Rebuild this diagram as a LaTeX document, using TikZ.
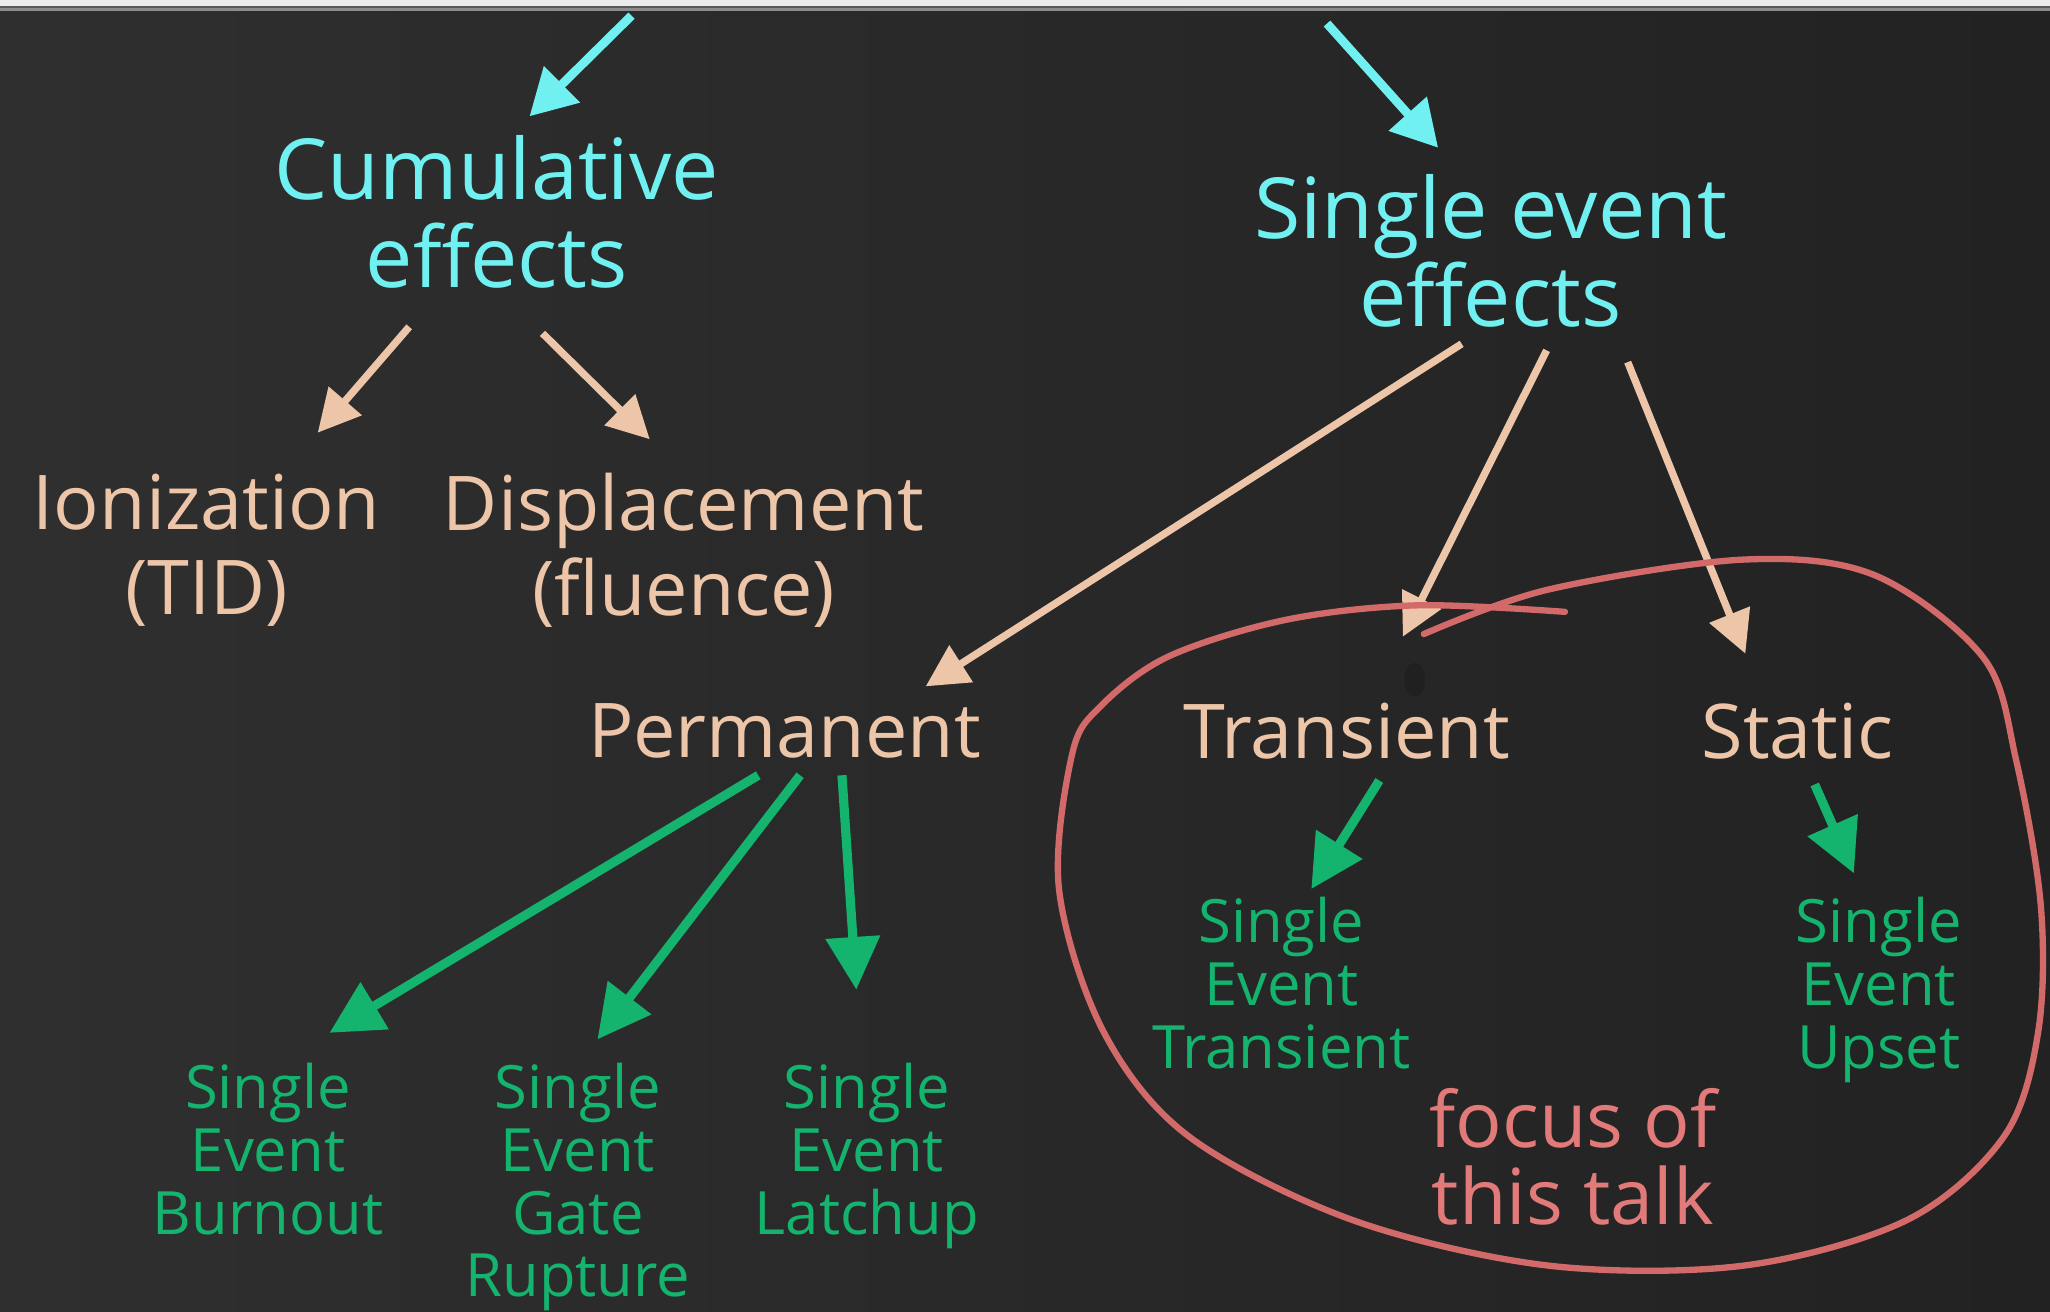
\documentclass[tikz,border=0pt]{standalone}
\usepackage{fontspec}
\setmainfont{Open Sans}
\usetikzlibrary{arrows.meta,calc}

\definecolor{boardL}{HTML}{2F2F2F}
\definecolor{boardR}{HTML}{222222}
\definecolor{chalkcyan}{HTML}{70F0F0}
\definecolor{chalkpeach}{HTML}{EDC5A8}
\definecolor{chalkgreen}{HTML}{14B36E}
\definecolor{chalkred}{HTML}{D26A6A}
\definecolor{chalkredtxt}{HTML}{E27A7A}

\tikzset{
  lvlone/.style={text=chalkcyan, font=\fontsize{24}{25}\selectfont, align=center, inner sep=0pt},
  lvltwo/.style={text=chalkpeach, font=\fontsize{21.5}{24}\selectfont, align=center, inner sep=0pt},
  lvlthree/.style={text=chalkgreen, font=\fontsize{17}{17.9}\selectfont, align=center, inner sep=0pt},
  notetxt/.style={text=chalkredtxt, font=\fontsize{22}{22}\selectfont, align=center, inner sep=0pt},
  cyanarrow/.style={draw=chalkcyan, line width=2.5pt,
    -{Triangle[length=13pt,width=14pt]}},
  peacharrow/.style={draw=chalkpeach, line width=2.1pt,
    -{Triangle[length=12pt,width=12pt]}},
  greenarrow/.style={draw=chalkgreen, line width=2.6pt,
    -{Triangle[length=15pt,width=15pt]}},
  focusloop/.style={draw=chalkred, line width=1.8pt, line cap=round},
}

\begin{document}
\begin{tikzpicture}[x=0.013074cm, y=-0.013074cm]
  \useasboundingbox (0,0) rectangle (1568,1003);

  % chalkboard
  \shade[left color=boardL, right color=boardR] (0,0) rectangle (1568,1003);
  \fill[black, opacity=0.15] (1082,520) ellipse (8 and 13);

  % window strip along the top edge
  \fill[gray!15] (0,0) rectangle (1568,4.6);
  \fill[black!65] (0,4.6) rectangle (1568,6.1);
  \fill[black!45] (0,6.1) rectangle (1568,8.4);

  % entry points of the two top arrows
  \coordinate (inA) at (483,12);
  \coordinate (inB) at (1015,18);

  % first level
  \node[lvlone] (cum) at (380,162) {Cumulative\\effects};
  \node[lvlone] (see) at (1140,192) {Single event\\effects};

  % second level
  \node[lvltwo] (ion) at (158,421) {Ionization\\(TID)};
  \node[lvltwo] (dis) at (523,421) {Displacement\\(fluence)};
  \node[lvltwo] (perm) at (600,559) {Permanent};
  \node[lvltwo] (tra) at (1030,559) {Transient};
  \node[lvltwo] (sta) at (1375,559) {Static};

  % third level
  \node[lvlthree] (seb) at (205,879) {Single\\Event\\Burnout};
  \node[lvlthree] (seg) at (442,908) {Single\\Event\\Gate\\Rupture};
  \node[lvlthree] (sel) at (663,884) {Single\\Event\\Latchup};
  \node[lvlthree] (set) at (980,752) {Single\\Event\\Transient};
  \node[lvlthree] (seu) at (1437,757) {Single\\Event\\Upset};

  % note inside the loop
  \node[notetxt] (foc) at (1203,885) {focus of\\this talk};

  % arrows into the first level
  \draw[cyanarrow] (inA) -- ($(cum)+(25,-73)$);
  \draw[cyanarrow] (inB) -- ($(see)+(-40,-79)$);

  % cumulative effects
  \draw[peacharrow] ($(cum)+(-67,88)$) -- ($(ion)+(85,-90)$);
  \draw[peacharrow] ($(cum)+(35,93)$) -- ($(dis)+(-26,-85)$);

  % single event effects
  \draw[peacharrow] ($(see)+(-22,71)$) -- ($(perm)+(108,-34)$);
  \draw[peacharrow] ($(see)+(43,76)$) -- ($(tra)+(43,-72)$);
  \draw[peacharrow] ($(see)+(105,85)$) -- ($(sta)+(-40,-59)$);

  % permanent
  \draw[greenarrow] ($(perm)+(-20,34)$) -- ($(seb)+(47,-89)$);
  \draw[greenarrow] ($(perm)+(12,34)$) -- ($(seg)+(15,-113)$);
  \draw[greenarrow] ($(perm)+(44,34)$) -- ($(sel)+(-8,-127)$);

  % transient and static
  \draw[greenarrow] ($(tra)+(25,38)$) -- ($(set)+(23,-72)$);
  \draw[greenarrow] ($(sta)+(13,41)$) -- ($(seu)+(-19,-89)$);

  % loop around transient and static effects
  \draw[focusloop] plot[smooth, tension=0.55] coordinates {
    (1197,468) (1084,463) (984,474) (894,502) (842,540) (820,577)
    (810,680) (844,789) (909,869) (1034,933) (1184,968) (1334,968)
    (1459,933) (1533,869) (1559,789) (1561,693) (1542,581) (1517,503)
    (1434,440) (1334,428) (1184,451) (1089,485)};
\end{tikzpicture}
\end{document}
